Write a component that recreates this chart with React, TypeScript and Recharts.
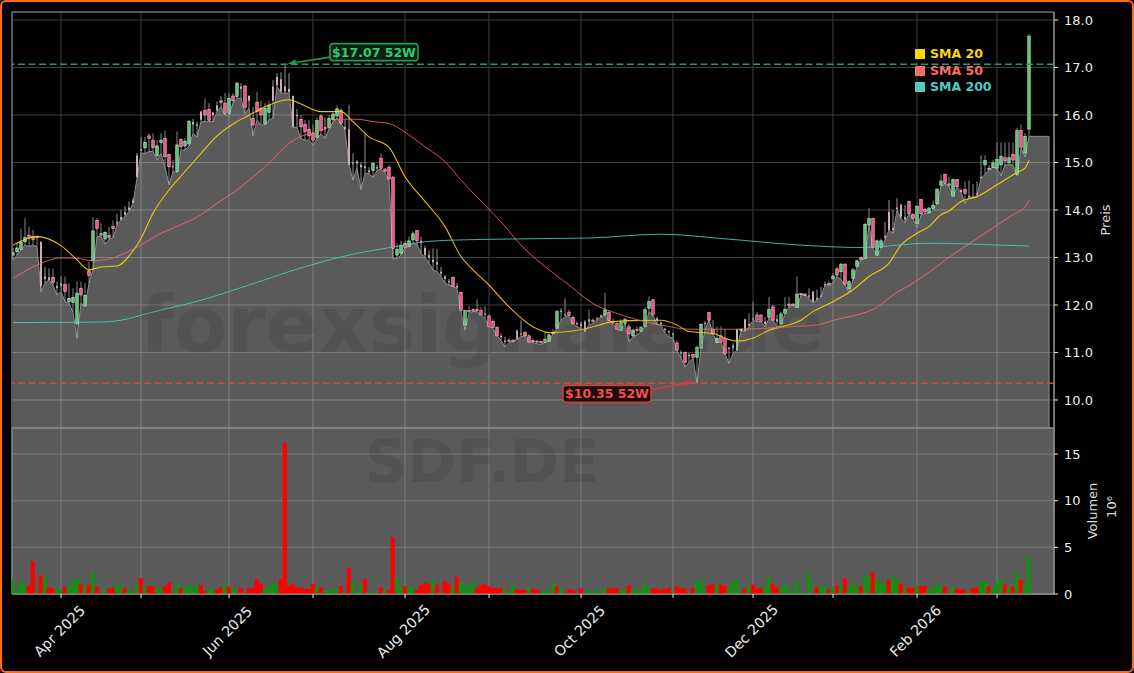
import React from "react";
import {
  ComposedChart, Area, Bar, Line, XAxis, YAxis, CartesianGrid, ReferenceLine,
  ReferenceDot, ReferenceArea, Legend, Label,
} from "recharts";

const opens = [
  13.05,13.12,13.17,13.33,13.47,13.44,13.45,13.33,12.60,12.58,
  12.58,12.40,12.45,12.43,12.07,12.05,11.60,12.35,11.98,12.72,
  12.93,13.78,13.50,13.39,13.47,13.65,13.75,13.85,13.95,14.05,
  14.20,15.15,15.28,15.31,15.56,15.47,15.14,15.42,15.51,15.17,
  14.93,14.81,15.48,15.35,15.39,15.85,15.80,16.07,16.10,16.12,
  16.05,16.20,16.30,16.25,16.03,16.40,16.39,16.60,16.61,16.40,
  15.93,16.27,16.14,15.81,16.05,16.60,16.80,16.75,16.60,16.55,
  16.40,16.00,15.91,15.80,15.70,15.61,15.53,15.98,15.75,15.74,
  15.90,15.98,16.10,15.75,15.70,15.00,15.02,14.95,14.92,14.83,
  14.83,14.90,15.09,14.86,14.90,14.69,13.05,13.09,13.30,13.23,
  13.37,13.57,13.35,13.20,13.05,12.95,12.90,12.70,12.60,12.50,
  12.58,12.40,12.27,11.58,11.88,11.90,11.91,11.88,11.82,11.77,
  11.65,11.53,11.35,11.25,11.26,11.26,11.47,11.40,11.42,11.35,
  11.25,11.24,11.23,11.21,11.23,11.42,11.51,11.88,11.80,11.85,
  11.74,11.62,11.60,11.65,11.70,11.68,11.72,11.78,11.79,11.84,
  11.65,11.61,11.46,11.61,11.54,11.35,11.49,11.44,11.54,11.93,
  12.11,11.72,11.63,11.50,11.45,11.40,11.20,11.00,11.00,10.95,
  10.96,10.90,11.09,11.62,11.84,11.49,11.21,11.35,11.30,11.10,
  11.15,11.05,11.47,11.70,11.60,11.72,11.79,11.79,11.65,11.74,
  11.96,11.70,11.60,11.82,12.02,12.02,11.95,12.24,12.23,12.20,
  12.28,12.15,12.20,12.44,12.45,12.55,12.76,12.70,12.86,12.34,
  12.56,12.81,13.00,12.98,13.68,13.82,13.05,13.21,13.45,13.96,
  13.62,14.05,14.11,13.85,14.18,13.91,13.72,14.22,14.01,13.94,
  14.03,14.13,14.52,14.75,14.55,14.29,14.64,14.42,14.43,14.30,
  14.28,14.35,14.70,14.95,14.88,14.90,14.88,14.95,15.10,14.99,
  15.17,14.75,15.67,15.20,15.70,
];
const closes = [
  13.10,13.20,13.32,13.42,13.42,13.38,13.42,12.39,12.55,12.53,
  12.47,12.36,12.40,12.28,12.14,12.16,12.25,12.21,12.20,12.62,
  13.56,13.61,13.47,13.53,13.42,13.61,13.72,13.80,13.90,14.00,
  14.15,14.70,15.26,15.42,15.51,15.31,15.35,15.47,15.12,14.91,
  14.91,15.37,15.33,15.45,15.87,15.80,15.78,15.90,16.00,15.89,
  16.00,16.10,16.26,16.03,16.35,16.30,16.67,16.55,16.16,16.30,
  15.79,16.07,16.00,16.14,16.20,16.30,16.62,16.50,16.50,16.48,
  15.75,15.98,15.75,15.65,15.56,15.47,15.88,15.67,15.70,15.93,
  16.02,16.13,15.82,15.70,14.95,14.98,14.98,14.90,14.88,14.80,
  14.98,14.88,14.88,14.81,14.65,13.19,13.17,13.26,13.21,13.35,
  13.50,13.35,13.30,13.05,13.00,12.90,12.85,12.66,12.55,12.48,
  12.39,12.37,11.88,11.88,11.86,11.87,11.88,11.79,11.79,11.54,
  11.53,11.35,11.32,11.22,11.24,11.24,11.28,11.38,11.35,11.22,
  11.23,11.22,11.21,11.28,11.37,11.40,11.86,11.85,11.78,11.78,
  11.60,11.60,11.55,11.44,11.65,11.65,11.70,11.75,11.90,11.67,
  11.62,11.49,11.65,11.70,11.39,11.47,11.47,11.53,11.90,12.07,
  11.79,11.68,11.60,11.47,11.42,11.38,11.05,10.98,10.79,10.92,
  10.90,11.11,11.59,11.60,11.68,11.39,11.30,11.22,10.97,11.07,
  11.10,11.49,11.49,11.46,11.58,11.70,11.68,11.65,11.60,11.91,
  11.68,11.65,11.81,11.91,12.00,12.00,12.23,12.22,12.21,12.18,
  12.07,12.12,12.18,12.43,12.43,12.61,12.63,12.86,12.44,12.49,
  12.74,12.93,12.95,13.70,13.82,13.21,13.35,13.35,13.42,13.58,
  13.58,14.02,13.86,13.80,13.92,13.82,14.08,13.92,13.96,14.04,
  14.10,14.44,14.61,14.56,14.52,14.64,14.49,14.38,14.35,14.28,
  14.26,14.33,14.68,15.04,14.85,14.99,15.06,15.13,15.03,15.10,
  15.05,15.67,15.32,15.55,17.66,
];
const highs = [
  13.20,13.30,13.61,13.83,13.65,13.58,13.46,13.34,12.80,12.77,
  12.77,12.49,12.60,12.60,12.46,12.35,12.49,12.49,12.46,12.91,
  13.85,13.83,13.72,13.55,13.65,13.78,13.92,14.00,14.08,14.18,
  14.25,15.20,15.54,15.54,15.61,15.61,15.47,15.61,15.67,15.18,
  15.05,15.65,15.51,15.51,15.89,15.92,15.86,16.08,16.35,16.25,
  16.07,16.28,16.40,16.46,16.46,16.46,16.70,16.67,16.63,16.42,
  16.17,16.49,16.30,16.25,16.30,16.74,16.88,16.90,17.09,16.88,
  16.41,16.13,16.00,15.90,15.90,15.80,15.95,16.02,15.95,16.00,
  16.05,16.20,16.14,15.90,16.21,15.19,15.05,15.00,15.61,14.90,
  15.00,14.95,15.19,14.88,14.95,14.72,13.30,13.35,13.35,13.44,
  13.55,13.57,13.44,13.25,13.15,13.19,13.18,12.80,12.63,12.55,
  12.60,12.46,12.27,11.90,11.97,11.93,12.12,11.95,11.97,11.80,
  11.70,11.55,11.40,11.33,11.30,11.28,11.47,11.68,11.45,11.38,
  11.30,11.27,11.25,11.44,11.40,11.50,11.90,11.93,12.14,11.90,
  11.78,11.65,11.65,11.68,11.90,11.72,11.75,11.80,12.26,11.88,
  11.72,11.65,11.70,11.72,11.60,11.50,11.55,11.56,11.95,12.18,
  12.11,11.75,11.65,11.52,11.47,11.42,11.25,11.05,11.02,11.00,
  10.98,11.15,11.62,11.66,11.86,11.68,11.55,11.55,11.50,11.12,
  11.20,11.50,11.51,11.70,11.82,12.07,11.85,11.80,11.75,12.17,
  12.00,11.79,11.86,12.17,12.17,12.03,12.60,12.25,12.25,12.35,
  12.30,12.32,12.38,12.50,12.50,12.67,12.80,12.88,12.88,12.52,
  12.78,12.95,13.02,13.72,14.04,13.84,13.38,13.40,13.75,14.21,
  14.00,14.25,14.13,14.11,14.20,13.93,14.10,14.23,14.05,14.06,
  14.20,14.45,14.75,14.77,14.70,14.66,14.65,14.45,14.60,14.62,
  14.55,14.60,15.15,15.15,14.95,15.05,15.42,15.42,15.42,15.42,
  15.42,15.73,15.80,15.62,17.70,
];
const lows = [
  12.95,13.05,13.16,13.26,13.23,13.26,13.23,12.28,12.46,12.53,
  12.42,12.21,12.28,12.07,12.04,11.84,11.30,12.04,11.97,12.46,
  12.75,13.44,13.44,13.28,13.38,13.42,13.68,13.79,13.86,13.97,
  14.14,14.67,15.20,15.19,15.23,15.23,15.05,15.19,14.91,14.53,
  14.81,14.79,15.26,15.26,15.35,15.61,15.54,15.86,15.86,15.86,
  15.86,16.07,16.17,16.00,16.00,16.25,16.35,16.35,16.03,16.14,
  15.56,15.89,15.79,15.79,15.90,15.93,16.60,16.46,16.46,16.46,
  15.74,15.74,15.50,15.47,15.47,15.37,15.50,15.60,15.51,15.70,
  15.86,15.93,15.82,15.68,14.95,14.63,14.88,14.43,14.77,14.77,
  14.69,14.83,14.86,14.77,14.63,12.98,12.98,13.05,13.21,13.23,
  13.30,13.28,13.09,13.00,12.88,12.74,12.70,12.60,12.46,12.42,
  12.39,12.35,11.86,11.47,11.82,11.86,11.86,11.79,11.72,11.54,
  11.51,11.35,11.26,11.12,11.21,11.23,11.28,11.33,11.35,11.22,
  11.21,11.18,11.17,11.21,11.23,11.40,11.51,11.68,11.75,11.78,
  11.60,11.54,11.51,11.44,11.58,11.61,11.68,11.75,11.79,11.67,
  11.61,11.49,11.46,11.61,11.23,11.33,11.37,11.44,11.54,11.86,
  11.79,11.58,11.58,11.40,11.33,11.30,11.05,10.88,10.70,10.79,
  10.88,10.35,11.09,11.47,11.68,11.39,11.21,11.22,10.97,10.77,
  10.98,11.05,11.47,11.44,11.54,11.68,11.65,11.65,11.54,11.72,
  11.68,11.54,11.58,11.82,11.96,12.00,11.95,12.21,12.21,12.14,
  12.05,12.10,12.17,12.42,12.42,12.46,12.60,12.53,12.42,12.26,
  12.53,12.81,12.95,12.98,13.68,13.19,13.03,13.19,13.37,13.58,
  13.51,14.00,13.82,13.73,13.92,13.82,13.63,13.89,13.93,13.93,
  13.98,14.13,14.50,14.55,14.50,14.29,14.48,14.38,14.14,14.28,
  14.26,14.30,14.66,14.75,14.85,14.90,14.88,14.72,14.95,14.95,
  14.95,14.72,15.30,15.12,15.55,
];
const paleCandles = [7,8,9,11,12,26,27,28,29,30,31,32,40,45,46,47,50,51,57,59,65,66,67,68,69,70,71,78,83,84,85,86,87,88,89,91,102,103,104,105,106,107,108,109,111,118,122,123,126,127,137,138,141,142,143,144,146,147,161,162,163,164,165,167,169,173,179,180,181,183,184,185,188,191,199,200,201,202,203,218,219,220,221,222,223,237,239,240,241,242];
const volumes = [
  1.6,.4,1.4,1.0,.9,3.5,.3,2.0,1.8,.75,
  .6,.7,.4,.8,.9,1.4,1.7,1.0,.9,1.0,
  2.5,.8,.1,.55,.55,.65,1.1,1.0,.7,.65,
  .1,1.1,1.7,.8,.85,.85,.7,.75,.85,1.2,
  .1,1.2,.6,.7,1.0,.8,.9,1.0,.3,.55,
  .65,.5,.75,1.1,.8,.75,.1,.7,.1,.6,
  .7,1.6,1.1,.6,.7,1.1,1.15,1.6,16.2,.85,
  1.1,.7,.7,.55,.55,1.1,.85,.7,.4,.45,
  .5,.55,.85,.1,2.8,1.3,.1,1.0,1.6,.1,
  .3,.1,.7,.4,.4,6.1,1.7,.85,.85,.85,
  .7,.45,1.0,1.2,1.05,1.6,1.0,.1,1.4,1.05,
  .85,1.85,1.3,.95,.85,1.3,.6,.95,1.05,.8,
  .65,.65,.65,.55,.1,.95,.5,.45,.45,.7,
  .6,.45,.1,.45,.1,1.05,.8,.7,.1,.5,
  .45,.1,.6,.1,.45,.1,.45,.1,.7,.6,
  .6,.6,.45,.45,.95,.35,.55,.45,1.15,.7,
  .6,.6,.45,.55,.65,.1,.85,.6,.6,.1,
  .65,1.5,1.4,.1,.95,1.05,.95,1.0,.85,.7,
  1.4,1.5,.1,.6,.9,1.0,.6,.65,.8,1.85,
  1.1,.7,.6,1.1,.6,.1,1.4,.1,.1,2.1,
  .1,.7,.8,.9,.5,.8,.9,.9,1.7,.7,
  1.1,.9,.9,2.1,1.85,2.3,1.7,1.2,1.1,1.5,
  1.85,1.5,1.1,.7,.7,.65,.9,.85,.85,.6,
  .6,1.1,.9,.8,.1,.7,.6,.45,.45,.4,
  .6,.7,1.35,1.35,.8,.65,1.25,1.7,1.0,.9,
  .8,2.15,1.5,1.0,3.95,
];
const volumeSides =
  "ggggrrgrgr" + "rggrgggrgr" + "grggrrggrg" + "ggrgrrggrr" + "ggrggggrrg" +
  "grrgrggrgr" + "rrrggggrrr" + "rrrrrrgrgg" + "ggrgrgggrg" + "ggrgrrggrg" +
  "grrrrgrgrr" + "grggggrrrr" + "rrrgggrrrg" + "rrggggrggr" + "rgrggggggr" +
  "rrggrggggg" + "rrrrrgrrrg" + "rgggrrgrrg" + "gggrgrrrgg" + "rrgggggggg" +
  "grggrgrgrg" + "ggrggrgggr" + "ggrgrrgrrg" + "gggrggrrrg" + "rrggrgggrg" + "rgrgg";

const sma20Index = [0,6,12,16,19,22,26,30,32,35,39,43,47,51,56,60,64,69,72,77,82,85,89,94,98,103,108,112,115,119,124,130,134,139,145,150,154,162,166,169,175,178,181,185,189,193,197,200,205,210,214,219,222,226,229,232,234,237,241,246,251,253,254];
const sma20Values = [13.26,13.44,13.25,12.95,12.74,12.80,12.82,13.14,13.40,13.93,14.42,14.81,15.19,15.56,15.86,16.04,16.21,16.32,16.23,16.07,16.07,15.86,15.54,15.32,14.70,14.18,13.65,13.02,12.74,12.42,11.96,11.54,11.42,11.44,11.54,11.65,11.67,11.68,11.58,11.44,11.40,11.30,11.24,11.30,11.47,11.56,11.68,11.86,12.07,12.32,12.60,12.88,13.26,13.51,13.65,13.90,13.98,14.18,14.28,14.53,14.79,14.88,15.04];
const sma50Index = [0,6,12,16,20,24,30,37,42,47,51,56,61,64,68,71,74,79,81,86,90,94,99,103,108,112,118,122,127,134,139,145,151,157,162,169,176,181,188,194,201,206,211,216,220,225,229,234,241,250,253,254];
const sma50Values = [12.56,12.84,12.99,12.98,12.93,12.97,13.17,13.51,13.69,13.90,14.14,14.42,14.77,14.98,15.33,15.51,15.61,15.75,15.91,15.91,15.86,15.82,15.58,15.33,15.02,14.63,14.10,13.75,13.26,12.74,12.42,12.03,11.82,11.67,11.58,11.49,11.49,11.49,11.51,11.54,11.58,11.70,11.79,11.95,12.21,12.46,12.69,13.00,13.40,13.90,14.07,14.20];
const sma200Index = [0,22,27,34,47,59,72,84,95,104,117,144,162,177,197,212,229,247,254];
const sma200Values = [11.63,11.64,11.68,11.83,12.10,12.42,12.78,13.05,13.22,13.34,13.38,13.41,13.49,13.40,13.26,13.21,13.30,13.26,13.24];

const dateTicks = [12,32,54,75,98,119,142,165,185,205,226,246];
const dateTickLabels = ["Apr 2025","","Jun 2025","","Aug 2025","","Oct 2025","","Dec 2025","","Feb 2026",""];
const priceTicks = [10,11,12,13,14,15,16,17,18];
const volumeTicks = [0,5,10,15];
const legendOrder = ["SMA 20","SMA 50","SMA 200"];
const areaTailIndex = 259;
const yearHigh = 17.07;
const yearLow = 10.35;

const seriesAt = (index: number[], values: number[], i: number) => {
  const k = index.indexOf(i);
  return k >= 0 ? values[k] : undefined;
};

const paleSet = new Set(paleCandles);
const priceRows: any[] = opens.map((o, i) => ({
  idx: i,
  open: o,
  close: closes[i],
  high: highs[i],
  low: lows[i],
  pale: paleSet.has(i),
  range: [lows[i], highs[i]],
  sma20: seriesAt(sma20Index, sma20Values, i),
  sma50: seriesAt(sma50Index, sma50Values, i),
  sma200: seriesAt(sma200Index, sma200Values, i),
}));
priceRows.push({ idx: areaTailIndex, low: lows[lows.length - 1] });

const volumeRows = volumes.map((v, i) => ({ idx: i, volume: v, side: volumeSides[i] }));

const FONT = "'DejaVu Sans', sans-serif";
const GRID = "#3e3e3e";
const SPINE = "#8f8f8f";
const TEXT = "#ececec";
const W = 1134;
const H = 673;
const X_DOMAIN: [number, number] = [-0.25, 260.25];

const Candle = (p: any) => {
  const { x, y, width, height, payload } = p;
  if (!payload || payload.open === undefined || !height) return null;
  const span = payload.high - payload.low;
  const at = (v: number) => y + ((payload.high - v) / span) * height;
  const up = payload.close >= payload.open;
  const top = at(Math.max(payload.open, payload.close));
  const bottom = at(Math.min(payload.open, payload.close));
  const cx = x + width / 2 + 0.5;
  const bodyH = Math.max(bottom - top, 1.2);
  if (payload.pale) {
    return (
      <g>
        <line x1={cx} x2={cx} y1={y} y2={y + height} stroke="#a8a8a8" strokeWidth={0.9} />
        <rect x={cx - 0.9} y={top} width={1.8} height={bodyH} fill={up ? "#b9d8c2" : "#d9b8c4"} />
      </g>
    );
  }
  return (
    <g>
      <line x1={cx} x2={cx} y1={y} y2={y + height} stroke="#a8a8a8" strokeWidth={0.8} />
      <rect
        x={cx - 1.25}
        y={top}
        width={2.5}
        height={bodyH}
        fill={up ? "#5cc47c" : "#f2527f"}
        stroke={up ? "#c6ecd0" : "#f5c6d3"}
        strokeWidth={0.6}
      />
    </g>
  );
};

const VolumeBar = (p: any) => {
  const { x, y, width, height, payload } = p;
  if (!height) return null;
  return (
    <rect
      x={x + width / 2 - 2.15}
      y={y}
      width={4.3}
      height={height}
      fill={payload.side === "g" ? "#1a8c1a" : "#ff0000"}
    />
  );
};

const Callout = (p: any) => {
  const { cx, cy, tipDx, tipDy, boxDx, boxDy, startDx, startDy, tone, boxFill, textColor, text } = p;
  const tx = cx + tipDx;
  const ty = cy + tipDy;
  const sx = cx + startDx;
  const sy = cy + startDy;
  const ang = Math.atan2(sy - ty, sx - tx);
  const a = 8;
  const hw = 3.2;
  const bx = tx + a * Math.cos(ang);
  const by = ty + a * Math.sin(ang);
  return (
    <g>
      <line x1={sx} y1={sy} x2={bx} y2={by} stroke={tone} strokeWidth={1.6} />
      <polygon
        points={`${tx},${ty} ${bx - hw * Math.sin(ang)},${by + hw * Math.cos(ang)} ${bx + hw * Math.sin(ang)},${by - hw * Math.cos(ang)}`}
        fill={tone}
      />
      <rect x={cx + boxDx - 44} y={cy + boxDy - 8.5} width={88} height={17} rx={3} fill={boxFill} stroke={tone} strokeWidth={1.6} />
      <text
        x={cx + boxDx}
        y={cy + boxDy + 4.5}
        textAnchor="middle"
        fontFamily={FONT}
        fontWeight="bold"
        fontSize={12.5}
        fill={textColor}
      >
        {text}
      </text>
    </g>
  );
};

const DateTick = (p: any) => {
  const { x, y, index } = p;
  const label = dateTickLabels[index];
  if (!label) return null;
  const cx = x - 1.5;
  const cy = y + 31;
  return (
    <text
      x={cx}
      y={cy}
      dy="0.35em"
      textAnchor="middle"
      fontFamily={FONT}
      fontSize={14.2}
      fill={TEXT}
      transform={`rotate(-45 ${cx} ${cy})`}
    >
      {label}
    </text>
  );
};

const LegendBox = ({ payload }: any) => (
  <div style={{ fontFamily: FONT, fontWeight: "bold", fontSize: 12.5, lineHeight: "16.5px" }}>
    {legendOrder.map((name) => {
      const e = (payload || []).find((item: any) => item.value === name);
      if (!e) return null;
      return (
        <div key={name} style={{ display: "flex", alignItems: "center", height: 16.5, color: e.color }}>
          <span style={{ width: 10, height: 10, background: e.color, marginRight: 5, display: "inline-block" }} />
          {name}
        </div>
      );
    })}
  </div>
);

const chartStyle: React.CSSProperties = { position: "absolute", left: 0, top: 0 };

export default function App() {
  return (
    <div
      style={{
        position: "absolute",
        left: 0,
        top: 0,
        width: W,
        height: H,
        background: "#000",
        overflow: "hidden",
      }}
    >
      <ComposedChart
        width={W}
        height={H}
        data={priceRows}
        style={chartStyle}
        margin={{ top: 12, right: 0, bottom: 245, left: 12 }}
      >
        <CartesianGrid stroke={GRID} strokeWidth={1} />
        <XAxis dataKey="idx" type="number" domain={X_DOMAIN} ticks={dateTicks} hide allowDataOverflow />
        <YAxis
          orientation="right"
          width={80}
          domain={[9.41, 18.168]}
          ticks={priceTicks}
          tickFormatter={(v: number) => v.toFixed(1)}
          allowDataOverflow
          axisLine={{ stroke: SPINE }}
          tickLine={{ stroke: TEXT }}
          tickSize={4}
          tickMargin={6}
          tick={{ fill: TEXT, fontSize: 13, fontFamily: FONT }}
        >
          <Label
            value="Preis"
            angle={-90}
            position="insideRight"
            offset={29}
            style={{ fill: "#dddddd", fontSize: 13, fontFamily: FONT, textAnchor: "middle" }}
          />
        </YAxis>
        <Area
          dataKey="low"
          type="linear"
          stroke="#8e8e8e"
          strokeWidth={1}
          fill="#ffffff"
          fillOpacity={0.353}
          isAnimationActive={false}
          dot={false}
          activeDot={false}
          legendType="none"
          connectNulls
        />
        <ReferenceLine
          segment={[{ x: areaTailIndex, y: lows[lows.length - 1] }, { x: areaTailIndex, y: 9.41 }]}
          stroke="#8e8e8e"
        />
        <ReferenceLine y={yearHigh} stroke="#2f9a5c" strokeWidth={1.5} strokeDasharray="7 3.5" />
        <ReferenceLine y={yearLow} stroke="#d24545" strokeWidth={1.5} strokeDasharray="7 3.5" />
        <Bar dataKey="range" barSize={3} shape={<Candle />} isAnimationActive={false} legendType="none" />
        <Line dataKey="sma20" name="SMA 20" type="monotone" stroke="#FFD700" strokeWidth={1.1} dot={false} activeDot={false} connectNulls isAnimationActive={false} strokeOpacity={0.9} />
        <Line dataKey="sma50" name="SMA 50" type="monotone" stroke="#FF6B6B" strokeWidth={1} dot={false} activeDot={false} connectNulls isAnimationActive={false} strokeOpacity={0.8} />
        <Line dataKey="sma200" name="SMA 200" type="monotone" stroke="#4ECDC4" strokeWidth={1} dot={false} activeDot={false} connectNulls isAnimationActive={false} strokeOpacity={0.85} />
        <ReferenceDot
          x={69}
          y={yearHigh}
          r={0}
          shape={
            <Callout
              tipDx={-1} tipDy={-0.5}
              startDx={41} startDy={-7}
              boxDx={85} boxDy={-12}
              tone="#1f9d55" boxFill="#0a1f12" textColor="#2ecc71" text="$17.07 52W"
            />
          }
        />
        <ReferenceDot
          x={170}
          y={yearLow}
          r={0}
          shape={
            <Callout
              tipDx={0} tipDy={-1}
              startDx={-42} startDy={6}
              boxDx={-86} boxDy={10.5}
              tone="#c94040" boxFill="#1c0c0c" textColor="#f05050" text="$10.35 52W"
            />
          }
        />
        <ReferenceArea x1={X_DOMAIN[0]} x2={X_DOMAIN[1]} y1={9.41} y2={18.168} fill="none" stroke={SPINE} strokeWidth={1} ifOverflow="visible" />
        <Legend
          content={<LegendBox />}
          layout="horizontal"
          verticalAlign="middle"
          align="center"
          wrapperStyle={{ position: "absolute", left: 915, top: 46, width: 100, height: 50 }}
        />
      </ComposedChart>

      <ComposedChart
        width={W}
        height={H}
        data={volumeRows}
        style={chartStyle}
        margin={{ top: 428, right: 0, bottom: 9, left: 12 }}
      >
        <CartesianGrid stroke="#787878" strokeWidth={1} fill="#5a5a5a" fillOpacity={1} />
        <XAxis
          dataKey="idx"
          type="number"
          domain={X_DOMAIN}
          ticks={dateTicks}
          height={70}
          allowDataOverflow
          interval={0}
          axisLine={{ stroke: SPINE }}
          tickLine={{ stroke: TEXT }}
          tickSize={4}
          tick={<DateTick />}
        />
        <YAxis
          orientation="right"
          width={80}
          domain={[0, 17.8]}
          ticks={volumeTicks}
          allowDataOverflow
          axisLine={{ stroke: SPINE }}
          tickLine={{ stroke: TEXT }}
          tickSize={4}
          tickMargin={6}
          tick={{ fill: TEXT, fontSize: 13, fontFamily: FONT }}
        >
          <Label
            value="Volumen"
            angle={-90}
            position="insideRight"
            offset={42}
            style={{ fill: "#dddddd", fontSize: 13, fontFamily: FONT, textAnchor: "middle" }}
          />
          <Label
            value="10⁶"
            angle={-90}
            position="insideRight"
            offset={23}
            dy={-4}
            style={{ fill: "#dddddd", fontSize: 13, fontFamily: FONT, textAnchor: "middle" }}
          />
        </YAxis>
        <Bar dataKey="volume" barSize={4} shape={<VolumeBar />} isAnimationActive={false} legendType="none" />
        <ReferenceArea x1={X_DOMAIN[0]} x2={X_DOMAIN[1]} y1={0} y2={17.8} fill="none" stroke={SPINE} strokeWidth={1} ifOverflow="visible" />
      </ComposedChart>

      <svg width={W} height={H} style={{ position: "absolute", left: 0, top: 0, pointerEvents: "none" }}>
        <g fontFamily={FONT} fontWeight="bold" textAnchor="middle" fill="#000" fillOpacity={0.08}>
          <text x={482} y={352} fontSize={78}>forexsignale.de</text>
          <text x={482} y={482} fontSize={59}>SDF.DE</text>
        </g>
      </svg>

      <div
        style={{
          position: "absolute",
          left: 0,
          top: 0,
          width: W,
          height: H,
          boxSizing: "border-box",
          border: "2px solid #ff6a13",
          borderRadius: 6,
          pointerEvents: "none",
        }}
      />
    </div>
  );
}
